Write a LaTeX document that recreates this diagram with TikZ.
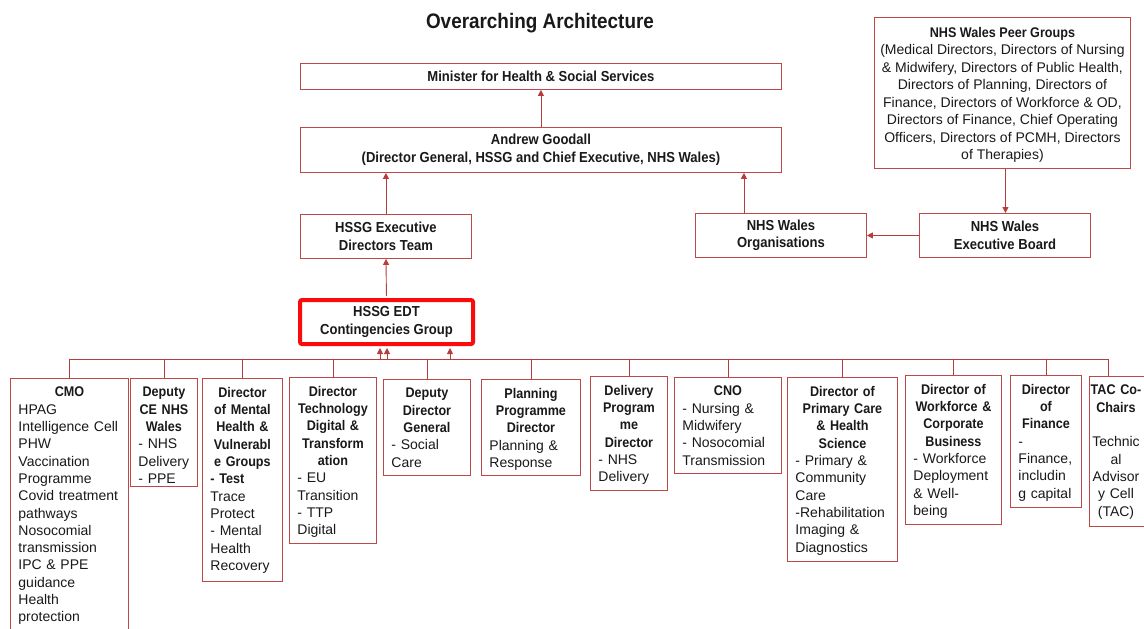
\documentclass[tikz,border=0pt]{standalone}
\usepackage{fontspec}
\setmainfont{Liberation Sans}
\newfontface\bt[FakeStretch=0.9]{Liberation Sans Bold}
\usetikzlibrary{arrows.meta}
\definecolor{boxred}{RGB}{188,72,72}
\definecolor{linered}{RGB}{185,60,60}
\definecolor{hired}{RGB}{250,12,12}
\definecolor{ink}{RGB}{25,25,25}
\newcommand\hd[1]{{\centering\bt #1\par}}
\newcommand\obox[7]{%
  \node[frame, minimum width=#4pt, minimum height=#5pt] (#1) at (#2,#3) {};
  \node[body, text width=#6pt] (#1t) at ([yshift=-9pt]#1.north) {#7};}
\begin{document}
\begin{tikzpicture}[x=1pt,y=-1pt,
  frame/.style={draw=boxred, line width=0.9pt, inner sep=0pt, anchor=north west, text=ink},
  toptext/.style={align=center, font=\fontsize{14.5}{17.5}\selectfont\bt},
  body/.style={anchor=north, inner sep=0pt, text=ink, font=\fontsize{14}{17.3}\selectfont},
  arr/.style={draw=linered, line width=0.9pt, -{Triangle[length=6pt,width=6pt]}},
  conn/.style={draw=linered, line width=0.8pt},
]
\useasboundingbox (0,0) rectangle (1144,629);
\clip (0,0) rectangle (1144,629);
\fill[white] (0,0) rectangle (1144,629);

\node[text=ink, font=\fontsize{21}{24}\selectfont\bt] (title) at (540,23) {Overarching Architecture};

\node[frame, minimum width=481pt, minimum height=26pt, toptext] (minister) at (300,63) {Minister for Health \& Social Services};
\node[frame, minimum width=481pt, minimum height=45pt, toptext] (andrew) at (300,127) {Andrew Goodall\\(Director General, HSSG and Chief Executive, NHS Wales)};
\node[frame, minimum width=171pt, minimum height=44pt, toptext] (hexec) at (300,214) {HSSG Executive\\Directors Team};
\node[draw=hired, line width=4pt, rounded corners=2pt, minimum width=173pt, minimum height=44pt, inner sep=0pt, anchor=north west, toptext, text=ink] (edt) at (298,298) {HSSG EDT\\Contingencies Group};
\node[frame, minimum width=171pt, minimum height=44pt, toptext] (orgs) at (695,213) {NHS Wales\\Organisations};
\node[frame, minimum width=171pt, minimum height=44pt, toptext] (board) at (919,213) {NHS Wales\\Executive Board};
\node[frame, minimum width=256pt, minimum height=151pt, align=center, font=\fontsize{14}{17.5}\selectfont] (peer) at (874,17) {\rule{0pt}{14pt}{\bt NHS Wales Peer Groups}\\(Medical Directors, Directors of Nursing\\\& Midwifery, Directors of Public Health,\\Directors of Planning, Directors of\\Finance, Directors of Workforce \& OD,\\Directors of Finance, Chief Operating\\Officers, Directors of PCMH, Directors\\of Therapies)};

% bottom boxes
\obox{cmo}{10}{378}{118}{270}{102}{\hd{CMO}\raggedright HPAG\\Intelligence Cell\\PHW\\Vaccination\\Programme\\Covid treatment\\pathways\\Nosocomial\\transmission\\IPC \& PPE\\guidance\\Health\\protection}
\obox{dce}{130}{378}{67}{108}{51}{\hd{Deputy\\CE NHS\\Wales}\raggedright - NHS\\Delivery\\- PPE}
\obox{dmh}{202}{378}{80}{203}{64}{\hd{Director\\of Mental\\Health \&\\Vulnerabl\\e Groups}\raggedright {\bt - Test}\\Trace\\Protect\\- Mental\\Health\\Recovery}
\obox{dtd}{289}{377}{87}{166}{71}{\hd{Director\\Technology\\Digital \&\\Transform\\ation}\raggedright - EU\\Transition\\- TTP\\Digital}
\obox{ddg}{383}{379}{87}{96}{71}{\hd{Deputy\\Director\\General}\raggedright - Social\\Care}
\obox{ppd}{481}{379}{99}{96}{83}{\hd{Planning\\Programme\\Director}\raggedright Planning \&\\Response}
\obox{dpd}{590}{376}{77}{114}{61}{\hd{Delivery\\Program\\me\\Director}\raggedright - NHS\\Delivery}
\obox{cno}{674}{377}{107}{96}{91}{\hd{CNO}\raggedright - Nursing \&\\Midwifery\\- Nosocomial\\Transmission}
\obox{dpc}{787}{377}{110}{184}{94}{\hd{Director of\\Primary Care\\\& Health\\Science}\raggedright - Primary \&\\Community\\Care\\-Rehabilitation\\Imaging \&\\Diagnostics}
\obox{dwf}{905}{375}{96}{149}{80}{\hd{Director of\\Workforce \&\\Corporate\\Business}\raggedright - Workforce\\Deployment\\\& Well-\\being}
\obox{dfi}{1010}{375}{71}{132}{55}{\hd{Director\\of\\Finance}\raggedright -\\Finance,\\includin\\g capital}
\node[frame, minimum width=62pt, minimum height=150pt] (tac) at (1089,376) {};
\node[body, text width=56pt, align=center] (tact) at (1116,385) {{\bt TAC Co-\\Chairs}\\[17.3pt]Technic\\al\\Advisor\\y Cell\\(TAC)};

% top connectors
\draw[arr] (andrew.north) -- (minister.south);
\draw[arr] (hexec.north) -- (hexec.north |- andrew.south);
\coordinate (oa) at ([xshift=-37pt]orgs.north);
\draw[arr] (oa) -- (oa |- andrew.south);
\draw[arr, shorten <=2pt] (edt.north) -- (hexec.south);
\coordinate (pa) at ([xshift=3pt]peer.south);
\draw[arr] (pa) -- (pa |- board.north);
\draw[arr] (board.west) -- (orgs.east);

% bus
\coordinate (bus) at (0,359);
\coordinate (tacdrop) at ([xshift=19pt]tac.north west);
\draw[conn] (cmo.north |- bus) -- (tacdrop |- bus);
\foreach \b in {cmo,dce,dmh,dtd,ddg,ppd,dpd,cno,dpc,dwf,dfi}
  \draw[conn] (\b.north |- bus) -- (\b.north);
\draw[conn] (tacdrop |- bus) -- (tacdrop);
\coordinate (e1) at ([xshift=-6.5pt]edt.south);
\coordinate (e2) at ([xshift=0.5pt]edt.south);
\coordinate (e3) at ([xshift=63.5pt]edt.south);
\foreach \e in {e1,e2,e3}
  \draw[arr, shorten >=2pt] (\e |- bus) -- (\e);
\end{tikzpicture}
\end{document}
